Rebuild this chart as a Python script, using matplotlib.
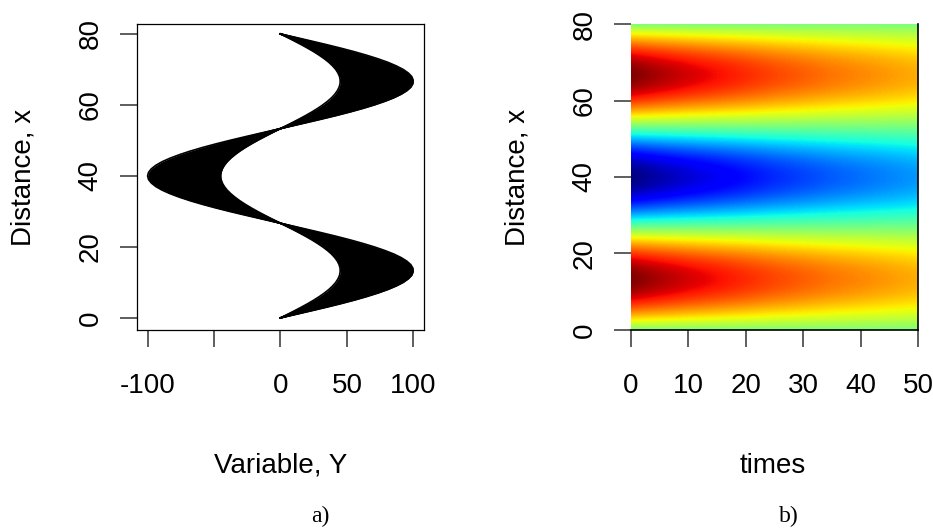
import numpy as np
import matplotlib
matplotlib.use("Agg")
import matplotlib.pyplot as plt

plt.rcParams['font.family'] = ['Liberation Sans', 'DejaVu Sans']

# sampling grid
times = [0, 5, 10, 15, 20, 25, 30, 35, 40, 45, 50]
distance = np.arange(0, 81, 1)

# amplitude factor at each sampled time
decay = [1.00, 0.92, 0.85, 0.79, 0.73, 0.67, 0.62, 0.57, 0.53, 0.49, 0.45]

# variable Y along distance at time 0
y_initial = [
    0.0, 11.8, 23.3, 34.6, 45.4, 55.6, 64.9, 73.4, 80.9, 87.2,
    92.4, 96.2, 98.8, 99.9, 99.7, 98.1, 95.1, 90.8, 85.3, 78.5,
    70.7, 61.9, 52.3, 41.9, 30.9, 19.5, 7.9, -3.9, -15.6, -27.1,
    -38.3, -48.9, -58.8, -67.9, -76.0, -83.1, -89.1, -93.8, -97.2, -99.3,
    -100.0, -99.3, -97.2, -93.8, -89.1, -83.1, -76.0, -67.9, -58.8, -48.9,
    -38.3, -27.1, -15.6, -3.9, 7.9, 19.5, 30.9, 41.9, 52.3, 61.9,
    70.7, 78.5, 85.3, 90.8, 95.1, 98.1, 99.7, 99.9, 98.8, 96.2,
    92.4, 87.2, 80.9, 73.4, 64.9, 55.6, 45.4, 34.6, 23.3, 11.8,
    0.0,
]

Y = np.outer(decay, y_initial)   # rows = times, cols = distance

fig = plt.figure(figsize=(9.33, 5.30), dpi=100)
ax1 = fig.add_axes([0.1468, 0.3774, 0.3076, 0.5773])
ax2 = fig.add_axes([0.6763, 0.3774, 0.3076, 0.5773])

FS = 20

# a) profiles at every time
ax1.fill_betweenx(distance, Y[0], Y[-1], color='black', lw=0)
for row in Y:
    ax1.plot(row, distance, color='black', lw=1.2)
ax1.set_xlim(-108, 108)
ax1.set_ylim(-3.4, 82.8)
ax1.set_xticks([-100, -50, 0, 50, 100])
ax1.set_xticklabels(['-100', '', '0', '50', '100'])
ax1.set_yticks([0, 20, 40, 60, 80])
for sp in ax1.spines.values():
    sp.set_linewidth(0.9)

# b) image of Y over times and distance
dt = times[1] - times[0]
dd = distance[1] - distance[0]
ax2.imshow(Y.T, origin='lower', cmap='jet', aspect='auto',
           interpolation='bilinear', interpolation_stage='data',
           vmin=Y.min(), vmax=Y.max(),
           extent=[times[0] - dt / 2, times[-1] + dt / 2,
                   distance[0] - dd / 2, distance[-1] + dd / 2])
ax2.set_xlim(times[0], times[-1])
ax2.set_ylim(distance[0], distance[-1])
ax2.set_xticks([0, 10, 20, 30, 40, 50])
ax2.set_yticks([0, 20, 40, 60, 80])
ax2.spines['top'].set_visible(False)
ax2.spines['left'].set_visible(False)
ax2.spines['bottom'].set_linewidth(1.2)
ax2.spines['right'].set_linewidth(1.2)

for ax in (ax1, ax2):
    ax.tick_params(axis='both', direction='out', length=12, width=1.1,
                   color='#333333', labelsize=FS)
    ax.tick_params(axis='x', pad=19)
    ax.tick_params(axis='y', pad=12)
    plt.setp(ax.get_yticklabels(), rotation=90, va='center')
    ax.set_ylabel('Distance, x', fontsize=FS, va='center')
    ax.yaxis.set_label_coords(-0.397, 0.5)

ax1.set_xlabel('Variable, Y', fontsize=FS, va='center')
ax1.xaxis.set_label_coords(0.5, -0.444)
ax2.set_xlabel('times', fontsize=FS, va='center')
ax2.xaxis.set_label_coords(0.495, -0.444)

fig.text(0.343, 0.025, 'a)', family=['Liberation Serif'], fontsize=17,
         ha='center', va='center')
fig.text(0.846, 0.025, 'b)', family=['Liberation Serif'], fontsize=17,
         ha='center', va='center')

fig.savefig('out.png', dpi=100)
